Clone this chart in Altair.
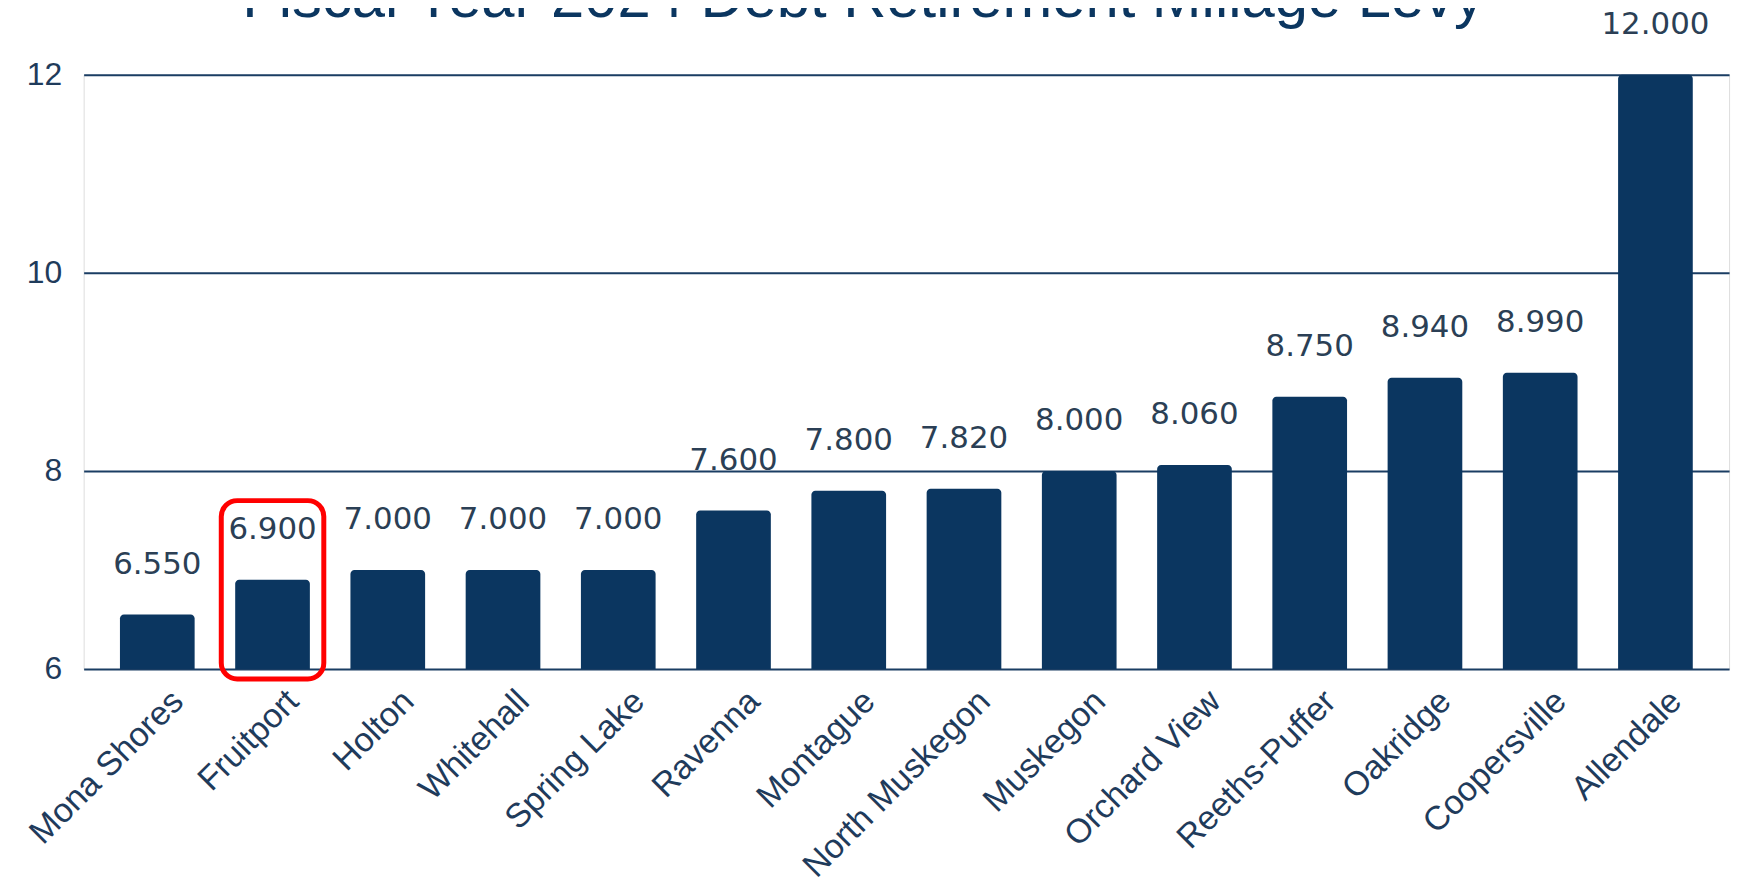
import altair as alt
import pandas as pd

districts = ["Mona Shores", "Fruitport", "Holton", "Whitehall", "Spring Lake", "Ravenna",
             "Montague", "North Muskegon", "Muskegon", "Orchard View", "Reeths-Puffer",
             "Oakridge", "Coopersville", "Allendale"]
levy = [6.55, 6.90, 7.00, 7.00, 7.00, 7.60, 7.80, 7.82, 8.00, 8.06, 8.75, 8.94, 8.99, 12.00]
y_ticks = [6, 8, 10, 12]
title_text = "Fiscal Year 2024 Debt Retirement Millage Levy"
highlight = ["Fruitport"]
highlight_top = [7.70]
highlight_bottom = [5.90]

NAVY = "#0b3660"
df = pd.DataFrame({"district": districts, "levy": levy, "base": [6] * len(levy)})
hl = pd.DataFrame({"district": highlight, "top": highlight_top, "bottom": highlight_bottom})
tdf = pd.DataFrame({"t": [title_text]})

xenc = alt.X("district:N", sort=districts,
             scale=alt.Scale(paddingInner=0.352, paddingOuter=0.315),
             axis=alt.Axis(title=None, labelAngle=-45, labelFontSize=34, labelFont="Liberation Sans",
                           labelColor="#1f3b5b", domain=False, ticks=False, labelPadding=15,
                           labelOffset=9, labelLimit=500))
yscale = alt.Scale(domain=[6, 12], nice=False, zero=False)

bars = alt.Chart(df).mark_bar(color=NAVY, cornerRadiusTopLeft=4, cornerRadiusTopRight=4).encode(
    x=xenc,
    y=alt.Y("levy:Q", scale=yscale,
            axis=alt.Axis(title=None, values=y_ticks, format="d", grid=True, gridColor="#1a3d63",
                          gridWidth=2, gridOpacity=1, domain=False, ticks=False, labelPadding=22,
                          labelFontSize=32, labelFont="Liberation Sans", labelColor="#1f3b5b")),
    y2="base:Q",
)

labels = alt.Chart(df).mark_text(font="DejaVu Sans", fontSize=31, color="#2b3f55",
                                 baseline="alphabetic", dy=-41).encode(
    x=alt.X("district:N", sort=districts),
    y=alt.Y("levy:Q", scale=yscale),
    text=alt.Text("levy:Q", format=".3f"),
)

box = alt.Chart(hl).mark_bar(filled=False, stroke="#ff0000", strokeWidth=5, cornerRadius=16,
                             width=103, fill=None).encode(
    x=alt.X("district:N", sort=districts),
    y=alt.Y("top:Q", scale=yscale),
    y2="bottom:Q",
)

title = alt.Chart(tdf).mark_text(font="Liberation Sans", fontSize=60, color=NAVY,
                                 baseline="alphabetic", align="center").encode(
    x=alt.value(783), y=alt.value(-58), text="t:N"
)

chart = alt.layer(bars, box, labels, title).properties(
    width=1653, height=597,
    autosize=alt.AutoSizeParams(type="none"),
    padding={"left": 76, "top": 65, "right": 17, "bottom": 230},
).configure_view(stroke=None).configure(background="white")

chart.save("out.html", embed_options={"renderer": "svg", "actions": False})
